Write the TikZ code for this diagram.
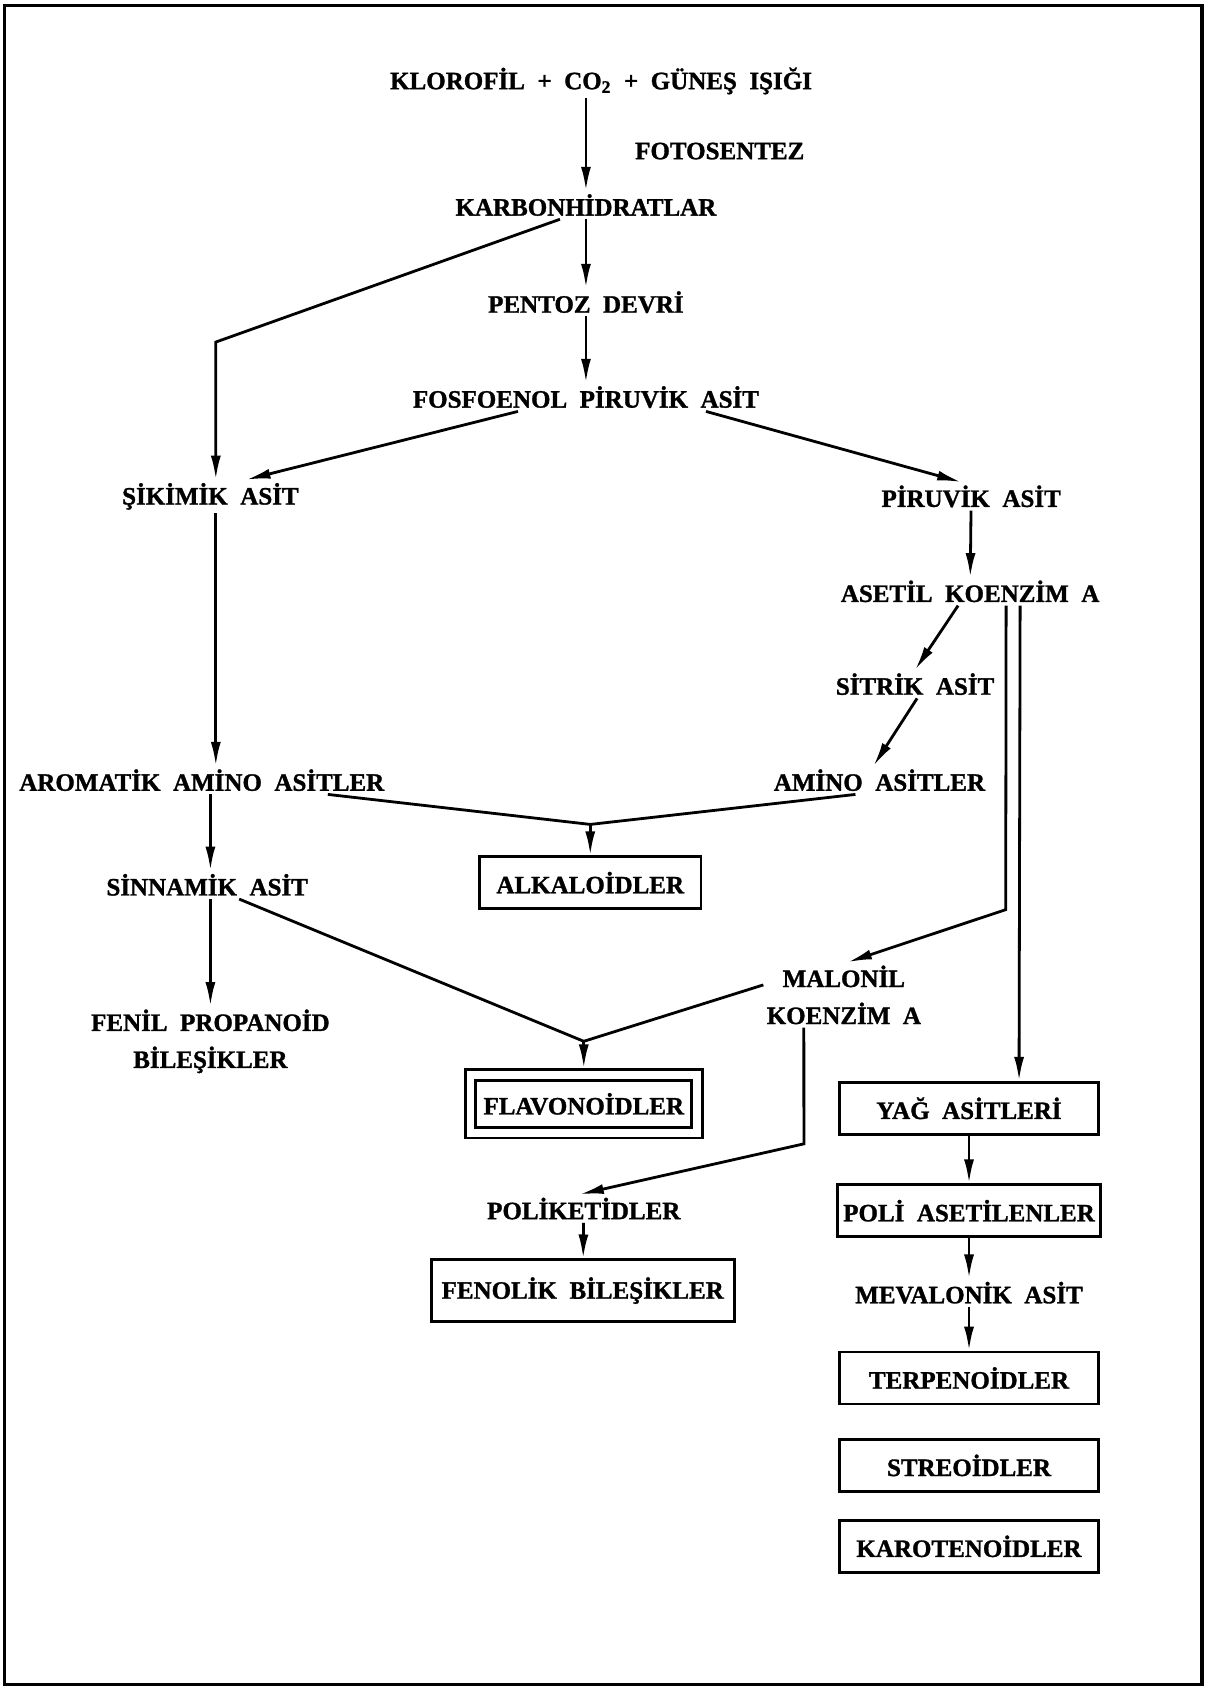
\documentclass[tikz,border=0pt]{standalone}
\usepackage{fontspec}
\setmainfont{Liberation Serif}[WordSpace=2.0, BoldFeatures={FakeBold=1.2}]
\usetikzlibrary{arrows.meta, fit}

\begin{document}
\begin{tikzpicture}[x=0.5393pt, y=-0.5393pt, line width=1.4pt,
        lbl/.style={font=\bfseries\fontsize{12.5}{18.5}\selectfont, inner sep=1pt},
        kutu/.style={lbl, draw, minimum height=25.9pt, inner sep=3pt},
        ok/.style={-{Latex[length=12pt,width=5pt]}}]
        \useasboundingbox (0,0) rectangle (1119,1568);
        \draw[line width=1.8pt] (4,5) rectangle (1114,1561);

        % main chain
        \node[lbl] (klo) at (557,75) {KLOROFİL + CO\textsubscript{2} + GÜNEŞ IŞIĞI};
        \node[lbl] (foto) at (667,140) {FOTOSENTEZ};
        \node[lbl] (karb) at (543,190) {KARBONHİDRATLAR};
        \node[lbl] (pent) at (543,280) {PENTOZ DEVRİ};
        \node[lbl] (fosf) at (543,368) {FOSFOENOL PİRUVİK ASİT};
        \node[lbl] (siki) at (195,460) {ŞİKİMİK ASİT};
        \node[lbl] (piru) at (900,460) {PİRUVİK ASİT};
        \node[lbl] (aset) at (899,548) {ASETİL KOENZİM A};
        \node[lbl] (sitr) at (848,634) {SİTRİK ASİT};
        \node[lbl] (amin) at (815,723) {AMİNO ASİTLER};
        \node[lbl] (arom) at (187,723) {AROMATİK AMİNO ASİTLER};
        \node[kutu, minimum width=110.6pt] (alka) at (547,818) {ALKALOİDLER};
        \node[lbl] (sinn) at (192,820) {SİNNAMİK ASİT};
        \node[lbl, align=center] (malo) at (782,922) {MALONİL\\KOENZİM A};
        \node[lbl, align=center] (feni) at (195,965) {FENİL PROPANOİD\\BİLEŞİKLER};
        \node[kutu, minimum width=108pt, minimum height=23.7pt] (flav) at (541,1023) {FLAVONOİDLER};
        \node[draw, fit=(flav), inner sep=4.5pt] (flavd) {};
        \node[kutu, minimum width=129.4pt] (yag) at (898,1027) {YAĞ ASİTLERİ};
        \node[lbl] (poli) at (541,1120) {POLİKETİDLER};
        \node[kutu, minimum width=129.4pt] (pase) at (898,1122) {POLİ ASETİLENLER};
        \node[kutu, minimum width=151.5pt, minimum height=30.7pt] (feno) at (540,1196) {FENOLİK BİLEŞİKLER};
        \node[lbl] (meva) at (898,1198) {MEVALONİK ASİT};
        \node[kutu, minimum width=129.4pt] (terp) at (898,1277) {TERPENOİDLER};
        \node[kutu, minimum width=129.4pt] (stre) at (898,1358) {STREOİDLER};
        \node[kutu, minimum width=129.4pt] (karo) at (898,1433) {KAROTENOİDLER};

        % bends and joins
        \coordinate (k1) at (200,317);
        \coordinate (m1) at (932,843);
        \coordinate (j1) at (547,764);
        \coordinate (j2) at (541,965);
        \coordinate (p1) at (745,1060);

        \draw[ok] (klo.south -| karb) -- (karb);
        \draw[ok] (karb) -- (pent);
        \draw[ok] (pent) -- (fosf);
        \draw[ok] ([xshift=-13pt]karb.south) -- (k1) -- (siki.north -| k1);
        \draw[ok] ([xshift=-34pt]fosf.south) -- ([xshift=18pt]siki.north);
        \draw[ok] ([xshift=60pt]fosf.south) -- ([xshift=-5pt]piru.north);
        \draw[ok] (piru) -- (aset);
        \draw[ok] ([xshift=-6pt]aset.south) -- (sitr.north);
        \draw[ok] ([xshift=1pt]sitr.south) -- ([xshift=-3pt]amin.north);
        \draw[ok] ([xshift=18pt]aset.south) -- (m1) -- ([xshift=2pt]malo.north);
        \draw[ok] ([xshift=25pt]aset.south) -- ([xshift=25pt]yag.north);
        \draw[ok] (siki.south -| k1) -- (arom.north -| k1);
        \draw ([xshift=63pt]arom.south) -- (j1);
        \draw ([xshift=-12pt]amin.south) -- (j1);
        \draw[ok] (j1) -- (alka);
        \draw[ok] (arom.south -| feni) -- (sinn.north -| feni);
        \draw[ok] (sinn.south -| feni) -- (feni);
        \draw ([xshift=16pt]sinn.south) -- (j2);
        \draw ([yshift=5pt]malo.west) -- (j2);
        \draw[ok] (j2) -- (flavd);
        \draw[ok] ([xshift=-20pt]malo.south) -- (p1) -- ([xshift=-2pt]poli.north);
        \draw[ok] (poli) -- (feno);
        \draw[ok] (yag) -- (pase);
        \draw[ok] (pase) -- (meva);
        \draw[ok] (meva) -- (terp);
\end{tikzpicture}
\end{document}
